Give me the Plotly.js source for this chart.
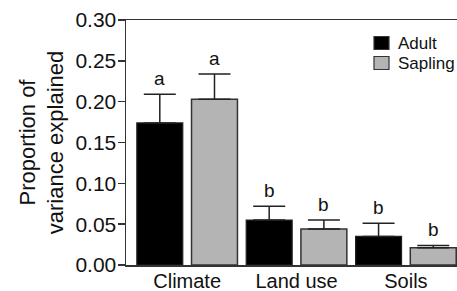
<!DOCTYPE html>
<html>
<head>
<meta charset="utf-8">
<script src="https://cdn.plot.ly/plotly-3.0.1.min.js"></script>
<style>html,body{margin:0;padding:0;background:#fff;}#chart{width:457px;height:291px;}</style>
</head>
<body>
<div id="chart"></div>
<script>
const categories = ["Climate", "Land use", "Soils"];
const seriesNames = ["Adult", "Sapling"];
const adultValues = [0.174, 0.055, 0.035];
const adultErrors = [0.035, 0.017, 0.016];
const saplingValues = [0.203, 0.044, 0.021];
const saplingErrors = [0.031, 0.011, 0.003];
const adultLetters = ["a", "b", "b"];
const saplingLetters = ["a", "b", "b"];

const xIdx = categories.map((c, i) => i);
const font = "Liberation Sans, Arial, sans-serif";
const lineCol = "#333";
const colors = ["#000", "#b4b4b4"];

const adult = {
  type: "bar", name: seriesNames[0], x: xIdx, y: adultValues, showlegend: false,
  marker: {color: colors[0], line: {color: "#222", width: 1.2}},
  error_y: {type: "data", array: adultErrors, arrayminus: adultErrors.map(() => 0), symmetric: false,
            color: "#222", thickness: 1.5, width: 16}
};
const sapling = {
  type: "bar", name: seriesNames[1], x: xIdx, y: saplingValues, showlegend: false,
  marker: {color: colors[1], line: {color: "#333", width: 1.5}},
  error_y: {type: "data", array: saplingErrors, arrayminus: saplingErrors.map(() => 0), symmetric: false,
            color: "#222", thickness: 1.5, width: 16}
};

const annotations = [];
xIdx.forEach(i => {
  annotations.push({x: i - 0.25, y: adultValues[i] + adultErrors[i], text: adultLetters[i],
    showarrow: false, yanchor: "bottom", yshift: 3, font: {family: font, size: 19, color: "#111"}});
  annotations.push({x: i + 0.25, y: saplingValues[i] + saplingErrors[i], text: saplingLetters[i],
    showarrow: false, yanchor: "bottom", yshift: 3, font: {family: font, size: 19, color: "#111"}});
});

// manual legend (paper pixel layout)
const shapes = [];
const W = 457, H = 291;
seriesNames.forEach((n, k) => {
  const cy = 43 + 20 * k;
  shapes.push({type: "rect", xref: "paper", yref: "paper", layer: "above",
    x0: (374 - 126) / (W - 126), x1: (389 - 126) / (W - 126),
    y0: (H - 26 - (cy + 6.5)) / (H - 46), y1: (H - 26 - (cy - 6.5)) / (H - 46),
    fillcolor: colors[k], line: {color: "#333", width: 1.2}});
  annotations.push({xref: "paper", yref: "paper", x: (396 - 126) / (W - 126), y: (H - 26 - cy) / (H - 46),
    xanchor: "left", yanchor: "middle", text: n, showarrow: false,
    font: {family: font, size: 17, color: "#111"}});
});

const layout = {
  width: W, height: H,
  margin: {l: 126, r: 0, t: 20, b: 26, pad: 0, autoexpand: false},
  paper_bgcolor: "#fff", plot_bgcolor: "#fff",
  font: {family: font, color: "#111"},
  barmode: "group", bargap: 0, bargroupgap: 0.16,
  showlegend: false,
  xaxis: {range: [-0.559, 2.467], tickvals: xIdx, ticktext: categories, showgrid: false, zeroline: false,
          showline: true, linecolor: lineCol, linewidth: 1.5, mirror: true, ticks: "", automargin: false,
          ticklabelstandoff: -3,
          tickfont: {size: 20, family: font}, fixedrange: true},
  yaxis: {range: [0, 0.30], dtick: 0.05, tickformat: ".2f", showgrid: false, zeroline: false, automargin: false,
          showline: true, linecolor: lineCol, linewidth: 1.5, ticks: "outside", ticklen: 7, tickwidth: 1.5,
          tickcolor: lineCol, tickfont: {size: 21, family: font}, ticklabelstandoff: -3,
          title: {text: "Proportion of<br>variance explained", font: {size: 22, family: font}, standoff: 5}},
  shapes: shapes,
  annotations: annotations
};

Plotly.newPlot("chart", [adult, sapling], layout, {displayModeBar: false, staticPlot: true});
</script>
</body>
</html>
